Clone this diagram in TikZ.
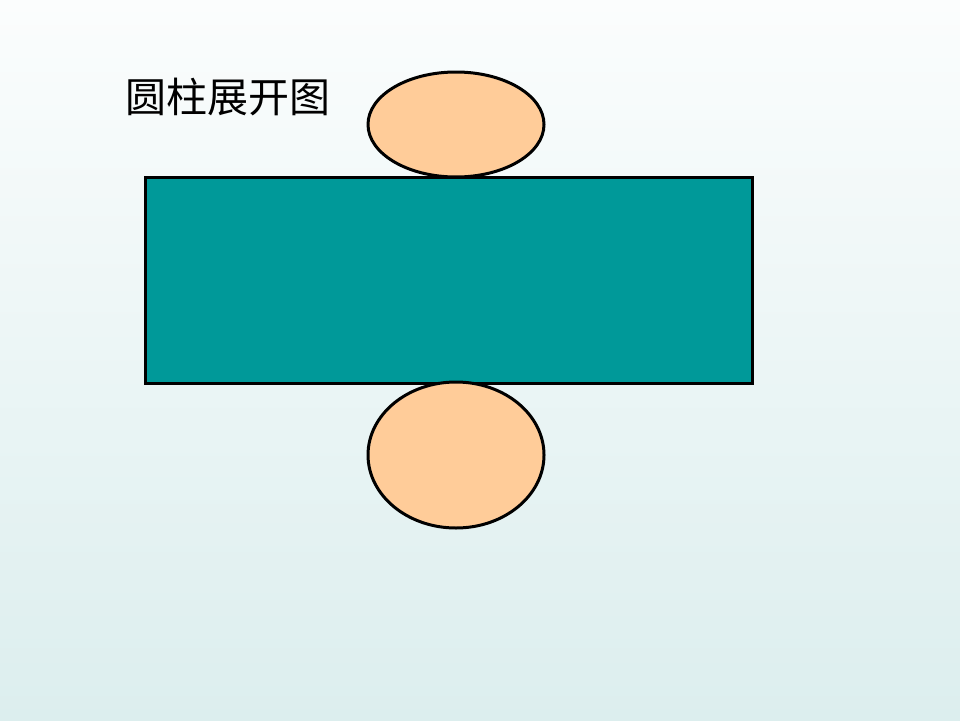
\documentclass[tikz,border=0pt]{standalone}
\usepackage{fontspec}
\newfontfamily\cjk{Noto Sans CJK SC}
\definecolor{bgtop}{HTML}{FBFDFD}
\definecolor{bgbot}{HTML}{DCEEEE}
\definecolor{tealfill}{HTML}{009999}
\definecolor{peach}{HTML}{FFCC99}
\tikzset{
  shapeline/.style={draw=black, line width=3pt},
  face/.style={shapeline, fill=peach},
}
\begin{document}
\begin{tikzpicture}[x=1pt,y=-1pt]
\shade[top color=bgtop, bottom color=bgbot] (0,0) rectangle (960,720);
\useasboundingbox (0,0) rectangle (960,720);
\node[shapeline, fill=tealfill, minimum width=607pt, minimum height=206pt, inner sep=0pt, anchor=center] (body) at (449,280.5) {};
\draw[face] (456,124.5) ellipse [x radius=88, y radius=52.5];
\draw[face] (456,455) ellipse [x radius=88, y radius=73];
\node[anchor=west, inner sep=0pt, font=\cjk\fontsize{41}{48}\selectfont] (title) at (125,97) {圆柱展开图};
\end{tikzpicture}
\end{document}
